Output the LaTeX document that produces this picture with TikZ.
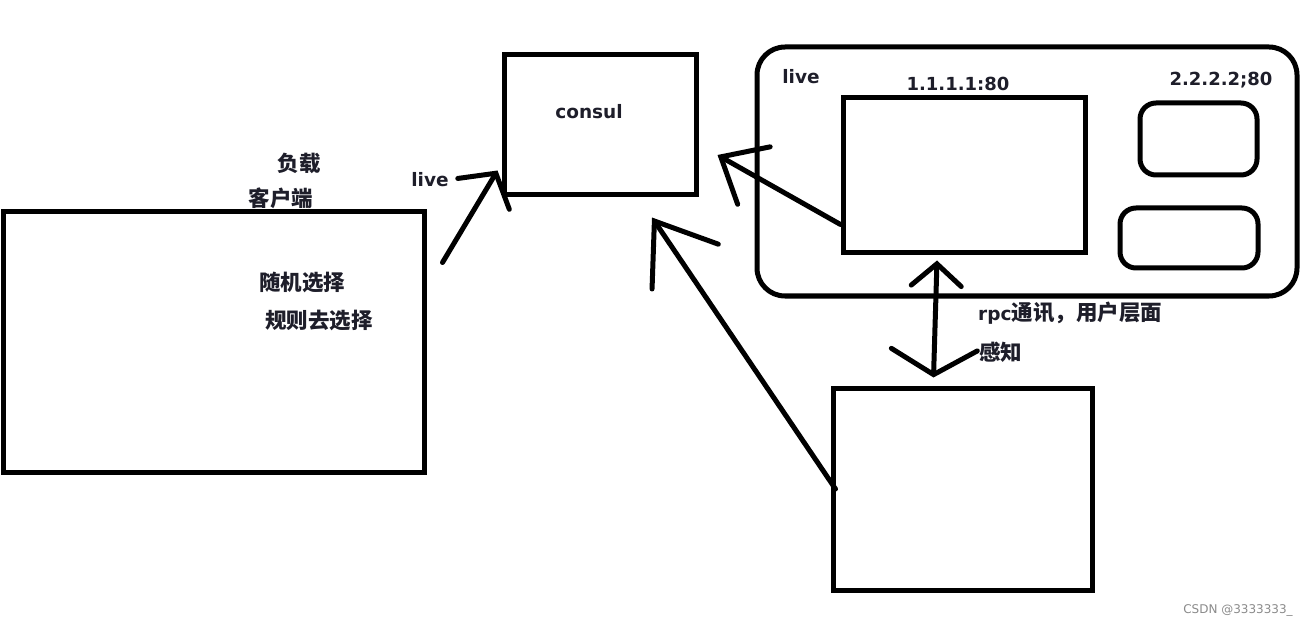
\documentclass[tikz,border=0pt]{standalone}
\usepackage{fontspec}
\setmainfont{DejaVu Sans}
\newfontfamily\cjk{Noto Sans CJK SC}
\usetikzlibrary{arrows.meta}
\definecolor{SketchInk}{HTML}{000000}
\definecolor{TextInk}{HTML}{1E1E2A}
\definecolor{MarkGray}{HTML}{8A8A8A}

\begin{document}
\begin{tikzpicture}[
    x=1pt, y=-1pt,
    box/.style={
        draw=SketchInk,
        line width=5pt,
        inner sep=0pt
    },
    rbox/.style={
        box,
        rounded corners=16pt
    },
    sketch/.style={
        draw=SketchInk,
        line width=5pt,
        line cap=round,
        -{Straight Barb[length=24pt,width=60pt,line cap=round]}
    },
    lbl/.style={
        text=TextInk,
        inner sep=0pt,
        font=\fontsize{18.5}{22}\selectfont\bfseries
    },
    zh/.style={
        text=TextInk,
        inner sep=0pt,
        font=\fontsize{21.5}{26}\selectfont\cjk\bfseries
    }
]
    \useasboundingbox (0,0) rectangle (1306,628);

    % boxes
    \node[box, minimum width=421pt, minimum height=260pt] (client) at (213.5,342) {};
    \node[box, minimum width=192pt, minimum height=140pt] (consul) at (600,125) {};
    \node[rbox, rounded corners=28pt, minimum width=540pt, minimum height=249pt] (cluster) at (1027,171.5) {};
    \node[box, minimum width=242pt, minimum height=155pt] (server) at (964,175.5) {};
    \node[rbox, minimum width=117pt, minimum height=72pt] (spareA) at (1198.5,139) {};
    \node[rbox, minimum width=138pt, minimum height=60pt] (spareB) at (1189,238) {};
    \node[box, minimum width=259pt, minimum height=202pt] (caller) at (962.5,489) {};

    % labels
    \node[zh] (load) at (299,163) {负载};
    \node[zh] (clientname) at (281,198) {客户端};
    \node[zh] (random) at (302,282) {随机选择};
    \node[zh] (rule) at (319,320) {规则去选择};
    \node[lbl] (liveleft) at (430,180) {live};
    \node[lbl] (consulname) at (589,112) {consul};
    \node[lbl] (liveright) at (801,77) {live};
    \node[lbl, font=\fontsize{18}{22}\selectfont\bfseries] (addrA) at (958,84) {1.1.1.1:80};
    \node[lbl, font=\fontsize{18}{22}\selectfont\bfseries] (addrB) at (1221,80) {2.2.2.2;80};
    \node[zh, anchor=west] (rpc) at (978,313) {{\fontspec{DejaVu Sans}\bfseries\fontsize{18.5}{22}\selectfont rpc}通讯，用户层面};
    \node[zh, anchor=west] (aware) at (979,352) {感知};
    \node[text=MarkGray, font=\fontsize{12}{14}\selectfont] (mark) at (1238,610) {CSDN @3333333\_};

    % connectors
    \draw[sketch] ([xshift=16pt,yshift=-53pt]client.north east)
        -- ([xshift=-4pt,yshift=27pt]consul.south west);
    \draw[sketch, -{Straight Barb[length=38pt,width=66pt,line cap=round]}]
        ([yshift=31pt]server.south west)
        -- ([xshift=19pt,yshift=-30pt]consul.east);
    \draw[sketch, -{Straight Barb[length=55pt,width=80pt,line cap=round]}]
        ([xshift=5pt]caller.west)
        -- ([xshift=52pt,yshift=-20pt]consul.south);
    \draw[sketch, {Straight Barb[length=25pt,width=86pt,line cap=round]}-{Straight Barb[length=22pt,width=50pt,line cap=round]}]
        ([xshift=-29pt,yshift=8pt]caller.north) -- ([xshift=-27pt,yshift=-5pt]server.south);
\end{tikzpicture}
\end{document}
